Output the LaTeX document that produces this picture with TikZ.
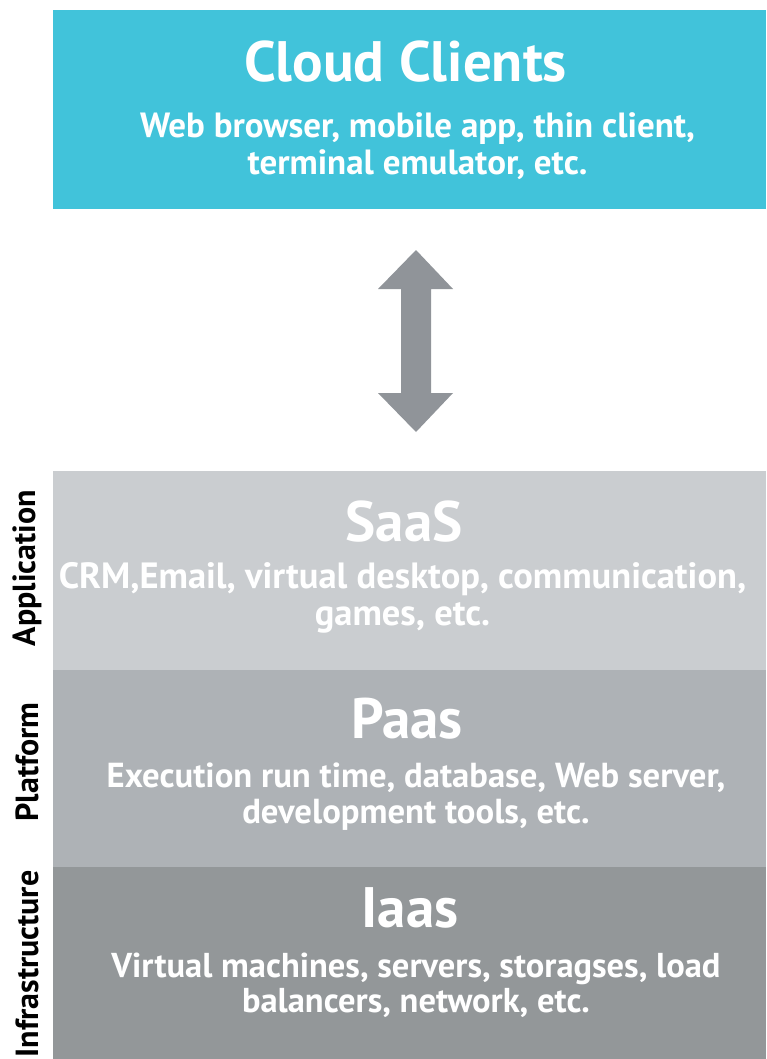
\documentclass[tikz,border=0pt]{standalone}
\usepackage{fontspec}
\setmainfont{PT Sans}
\definecolor{cloudc}{HTML}{41C3DA}
\definecolor{saasc}{HTML}{CACDD0}
\definecolor{paasc}{HTML}{AEB2B6}
\definecolor{iaasc}{HTML}{939799}
\definecolor{arrowc}{HTML}{909499}
\begin{document}
\begin{tikzpicture}[x=1pt,y=-1pt,
  ttl/.style={text=white, font=\bfseries\fontsize{57}{57}\selectfont, inner sep=0pt, anchor=base},
  sub/.style={text=white, font=\bfseries\fontsize{#1}{#1}\selectfont, inner sep=0pt, anchor=base},
  side/.style={text=black, font=\bfseries\fontsize{32}{32}\selectfont, rotate=90, inner sep=0pt}]
\useasboundingbox (0,0) rectangle (766,1059);
% layer boxes
\fill[cloudc] (53,10) rectangle (766,209);
\fill[saasc] (53,471) rectangle (766,670);
\fill[paasc] (53,670) rectangle (766,867);
\fill[iaasc] (53,867) rectangle (766,1059);
% fat double arrow between the client box and the service stack
\fill[arrowc] (416,250) -- (453,289) -- (431,289) -- (431,393) -- (453,393) -- (416,432)
  -- (378,393) -- (401,393) -- (401,289) -- (378,289) -- cycle;
% Cloud clients
\node[ttl] (cloudT) at (405.5,82) {Cloud Clients};
\node[sub=35] (cloudA) at (417.5,138) {Web browser, mobile app, thin client,};
\node[sub=35] (cloudB) at (417.5,175) {terminal emulator, etc.};
% SaaS
\node[ttl] (saasT) at (404,541) {SaaS};
\node[sub=36.5] (saasA) at (402.5,588) {CRM,Email, virtual desktop, communication,};
\node[sub=36.5] (saasB) at (402.5,625) {games, etc.};
% PaaS
\node[ttl] (paasT) at (407,738) {Paas};
\node[sub=34.7] (paasA) at (416,787) {Execution run time, database, Web server,};
\node[sub=34.7] (paasB) at (416,823) {development tools, etc.};
% IaaS
\node[ttl] (iaasT) at (410,927) {Iaas};
\node[sub=34.5] (iaasA) at (416,977) {Virtual machines, servers, storagses, load};
\node[sub=34.5] (iaasB) at (416,1012) {balancers, network, etc.};
% side labels
\node[side] (app) at (27,568) {Application};
\node[side] (plat) at (27,762) {Platform};
\node[side] (infra) at (27,964) {Infrastructure};
\end{tikzpicture}
\end{document}
